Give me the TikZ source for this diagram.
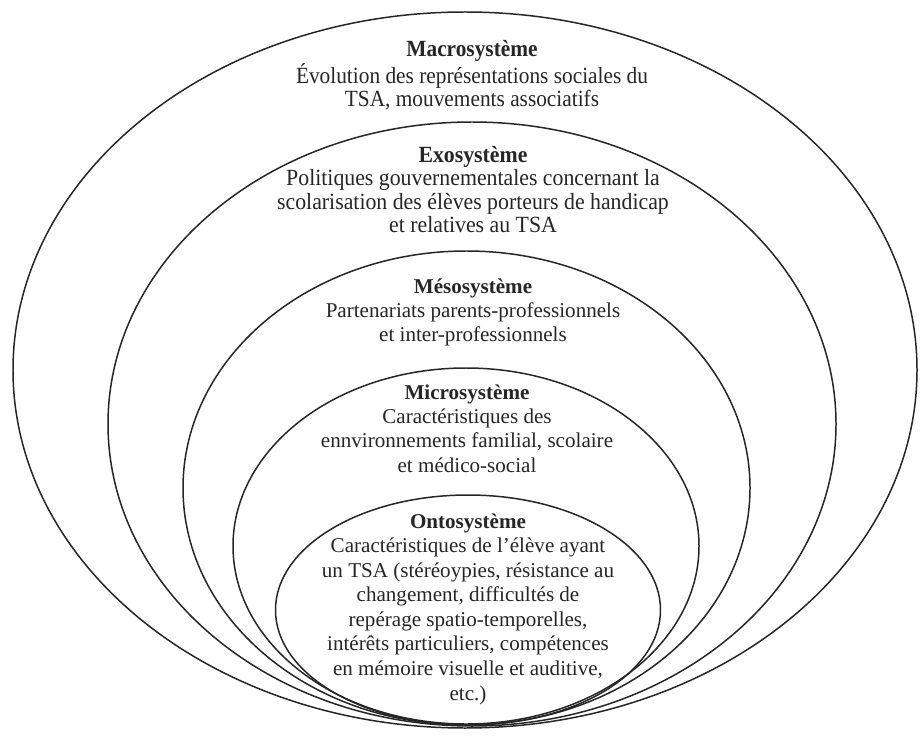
\documentclass[tikz,border=0pt]{standalone}
\usepackage{fontspec}
\setmainfont{Liberation Serif}
\newfontfamily\macrofont[FakeStretch=0.92]{Liberation Serif}
\newfontfamily\exofont[FakeStretch=0.94]{Liberation Serif}
\begin{document}
\begin{tikzpicture}[x=0.02cm,y=-0.02cm,
  ring/.style={draw=black!85, line width=0.85pt},
  lbl/.style={align=center, inner sep=0pt, anchor=north, font=\fontsize{12}{13.9}\selectfont, text=black!85},
  macrolbl/.style={align=center, inner sep=0pt, anchor=north, font=\macrofont\fontsize{13.2}{13.4}\selectfont, text=black!85},
  exolbl/.style={align=center, inner sep=0pt, anchor=north, font=\exofont\fontsize{13.2}{13.3}\selectfont, text=black!85}]
\useasboundingbox (0,0) rectangle (922,736);
\fill[white] (0,0) rectangle (922,736);
\draw[ring] (465,370) ellipse [x radius=452, y radius=358];
\draw[ring] (472,424) ellipse [x radius=364, y radius=302];
\draw[ring] (466.5,488) ellipse [x radius=283.5, y radius=237];
\draw[ring] (466,546) ellipse [x radius=233, y radius=178];
\draw[ring] (468,610) ellipse [x radius=192.5, y radius=115];
\node[macrolbl] (macro) at (472,40) {\textbf{Macrosystème}\\Évolution des représentations sociales du\\TSA, mouvements associatifs};
\node[exolbl] (exo) at (473,146) {\textbf{Exosystème}\\Politiques gouvernementales concernant la\\scolarisation des élèves porteurs de handicap\\et relatives au TSA};
\node[lbl] (meso) at (473,278) {\textbf{Mésosystème}\\Partenariats parents-professionnels\\et inter-professionnels};
\node[lbl] (micro) at (467,384) {\textbf{Microsystème}\\Caractéristiques des\\ennvironnements familial, scolaire\\et médico-social};
\node[lbl, font=\fontsize{12}{14}\selectfont] (onto) at (468,513) {\textbf{Ontosystème}\\Caractéristiques de l’élève ayant\\un TSA (stéréoypies, résistance au\\changement, difficultés de\\repérage spatio-temporelles,\\intérêts particuliers, compétences\\en mémoire visuelle et auditive,\\etc.)};
\end{tikzpicture}
\end{document}
